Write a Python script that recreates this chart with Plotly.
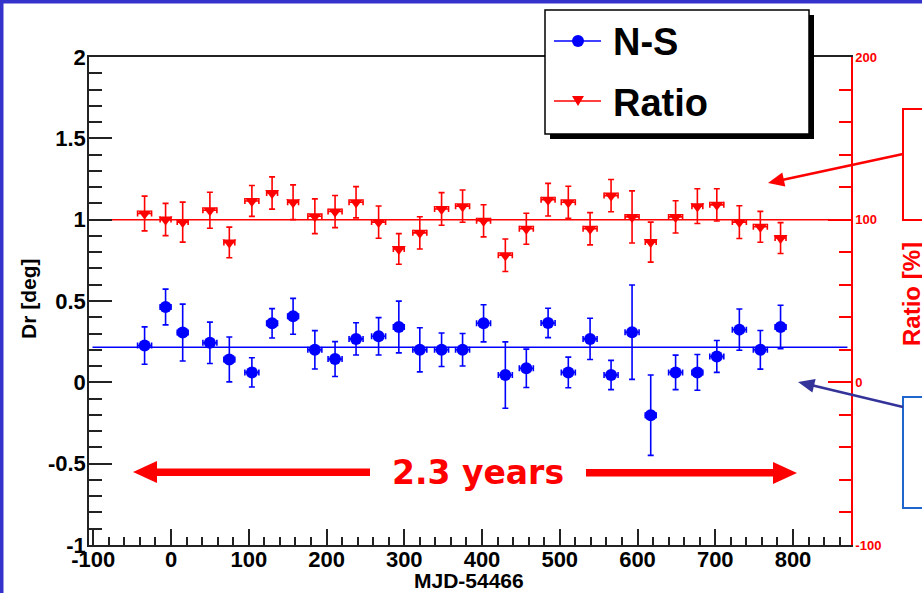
import plotly.graph_objects as go

# ---------------- data ----------------
mjd = [-34, -7, 15, 50, 75, 104, 130, 157, 185, 211, 238, 267, 293, 320, 348,
       375, 402, 430, 457, 485, 511, 539, 566, 593, 617, 649, 677, 702, 731, 758, 784]
mjd_err = [9, 7, 7, 9, 7, 9, 7, 7, 9, 9, 9, 9, 7, 9, 9,
           9, 9, 9, 9, 9, 9, 9, 9, 9, 7, 9, 7, 9, 9, 9, 7]

ns = [0.226, 0.463, 0.306, 0.243, 0.141, 0.061, 0.363, 0.406, 0.200, 0.143, 0.267,
      0.283, 0.340, 0.200, 0.200, 0.200, 0.363, 0.045, 0.086, 0.365, 0.061, 0.267,
      0.045, 0.308, -0.202, 0.061, 0.061, 0.159, 0.324, 0.200, 0.340]
ns_err = [0.115, 0.110, 0.175, 0.127, 0.138, 0.090, 0.090, 0.110, 0.118, 0.107, 0.099,
          0.115, 0.159, 0.136, 0.103, 0.100, 0.114, 0.204, 0.118, 0.090, 0.094, 0.127,
          0.090, 0.290, 0.247, 0.106, 0.110, 0.098, 0.127, 0.119, 0.134]

ratio = [103.8, 100.1, 98.5, 105.8, 86.0, 111.5, 116.4, 110.7, 102.1, 105.0, 110.7,
         98.5, 82.0, 91.9, 106.6, 108.3, 99.3, 78.1, 94.4, 112.3, 110.7, 94.4,
         114.8, 101.7, 86.2, 101.7, 108.3, 109.1, 98.5, 95.6, 88.7]
ratio_err = [10.7, 9.9, 12.3, 11.1, 9.4, 9.5, 9.9, 10.7, 10.7, 9.9, 9.6,
             9.9, 9.4, 9.9, 10.0, 9.9, 9.9, 10.0, 9.5, 10.0, 9.8, 9.9,
             9.9, 16.0, 12.3, 9.9, 10.7, 9.9, 10.1, 9.5, 9.5]

ns_fit = 0.216
ns_fit_range = [-101, 870]
ratio_fit = 100.0
ratio_fit_range = [-104, 875]

x_ticks = [-100, 0, 100, 200, 300, 400, 500, 600, 700, 800]
x_tick_labels = ["-100", "0", "100", "200", "300", "400", "500", "600", "700", "800"]
y_ticks = [-1, -0.5, 0, 0.5, 1, 1.5, 2]
y_tick_labels = ["-1", "-0.5", "0", "0.5", "1", "1.5", "2"]
y2_ticks = [-100, 0, 100, 200]
y2_tick_labels = ["-100", "0", "100", "200"]

# ---------------- layout helpers (pixel -> paper) ----------------
W, H = 922, 593
L, R, T, B = 89, 851, 57, 545


def fx(px):
    return (px - L) / (R - L)


def fy(py):
    return (B - py) / (B - T)


BLUE = "#0000ff"
RED = "#ff0000"
AX = "#222222"
FONT = "Liberation Sans"

fig = go.Figure()

fig.add_trace(go.Scatter(x=ns_fit_range, y=[ns_fit, ns_fit], mode="lines",
                         line=dict(color=BLUE, width=1.5), showlegend=False,
                         hoverinfo="skip", cliponaxis=False))
fig.add_trace(go.Scatter(x=ratio_fit_range, y=[ratio_fit, ratio_fit], mode="lines",
                         yaxis="y2", line=dict(color=RED, width=1.5), showlegend=False,
                         hoverinfo="skip", cliponaxis=False))

fig.add_trace(go.Scatter(
    x=mjd, y=ns, mode="markers", name="N-S",
    marker=dict(symbol="circle", size=12, color=BLUE),
    error_y=dict(type="data", array=ns_err, color=BLUE, thickness=1.6, width=3),
    error_x=dict(type="data", array=mjd_err, color=BLUE, thickness=1.6, width=3),
    showlegend=False))

fig.add_trace(go.Scatter(
    x=mjd, y=ratio, mode="markers", name="Ratio", yaxis="y2",
    marker=dict(symbol="triangle-down", size=12, color=RED),
    error_y=dict(type="data", array=ratio_err, color=RED, thickness=1.6, width=3),
    error_x=dict(type="data", array=mjd_err, color=RED, thickness=1.6, width=3),
    showlegend=False))

tickfont = dict(family=FONT, size=22, color="black", weight="bold")

fig.update_layout(
    width=W, height=H,
    margin=dict(l=L, r=W - R, t=T, b=H - B, pad=0),
    paper_bgcolor="white", plot_bgcolor="white",
    xaxis=dict(range=[-105.5, 874.6], showline=True, linecolor=AX, linewidth=1.5,
               mirror=True, ticks="inside", ticklen=16, tickwidth=1.5, tickcolor=AX,
               tickmode="array", tickvals=x_ticks, ticktext=x_tick_labels,
               ticklabelstandoff=-6,
               minor=dict(ticks="inside", ticklen=8, tickwidth=1.5, tickcolor=AX,
                          dtick=20, tick0=0, showgrid=False),
               showgrid=False, zeroline=False, tickfont=tickfont),
    yaxis=dict(range=[-1, 2], showline=True, linecolor=AX, linewidth=1.5,
               ticks="inside", ticklen=23, tickwidth=1.5, tickcolor=AX,
               tickmode="array", tickvals=y_ticks, ticktext=y_tick_labels,
               ticklabelstandoff=-3,
               minor=dict(ticks="inside", ticklen=13, tickwidth=1.5, tickcolor=AX,
                          dtick=0.1, tick0=0, showgrid=False),
               showgrid=False, zeroline=False, tickfont=tickfont),
    yaxis2=dict(range=[-100, 200], overlaying="y", side="right", showline=True,
                linecolor=RED, linewidth=1.5, ticks="inside", ticklen=23,
                tickwidth=1.5, tickcolor=RED,
                tickmode="array", tickvals=y2_ticks, ticktext=y2_tick_labels,
                minor=dict(ticks="inside", ticklen=12, tickwidth=1.5, tickcolor=RED,
                           dtick=20, tick0=0, showgrid=False),
                showgrid=False, zeroline=False,
                tickfont=dict(family=FONT, size=13, color=RED, weight="bold")),
    showlegend=False,
)

shapes = []
# outer blue frame (top and left)
shapes.append(dict(type="rect", xref="paper", yref="paper", x0=fx(-5), x1=fx(930),
                   y0=fy(-5), y1=fy(3.5), fillcolor="#3434cc", line=dict(width=0)))
shapes.append(dict(type="rect", xref="paper", yref="paper", x0=fx(-5), x1=fx(3.5),
                   y0=fy(-5), y1=fy(600), fillcolor="#3434cc", line=dict(width=0)))
# legend shadow and box
shapes.append(dict(type="rect", xref="paper", yref="paper", x0=fx(550), x1=fx(814),
                   y0=fy(15), y1=fy(139), fillcolor="black", line=dict(width=0)))
shapes.append(dict(type="rect", xref="paper", yref="paper", x0=fx(545), x1=fx(809),
                   y0=fy(10), y1=fy(134), fillcolor="white", line=dict(color="black", width=1.5)))
# legend symbols
shapes.append(dict(type="line", xref="paper", yref="paper", x0=fx(554), x1=fx(601),
                   y0=fy(41), y1=fy(41), line=dict(color=BLUE, width=1.5)))
shapes.append(dict(type="circle", xref="paper", yref="paper", x0=fx(572), x1=fx(584),
                   y0=fy(35), y1=fy(47), fillcolor=BLUE, line=dict(width=0)))
shapes.append(dict(type="line", xref="paper", yref="paper", x0=fx(554), x1=fx(601),
                   y0=fy(101), y1=fy(101), line=dict(color=RED, width=1.5)))
shapes.append(dict(type="path", xref="paper", yref="paper",
                   path=f"M {fx(572)},{fy(96)} L {fx(584)},{fy(96)} L {fx(578)},{fy(106)} Z",
                   fillcolor=RED, line=dict(width=0)))
# right-side note boxes
shapes.append(dict(type="rect", xref="paper", yref="paper", x0=fx(903), x1=fx(960),
                   y0=fy(109), y1=fy(220), fillcolor="white", line=dict(color=RED, width=2)))
shapes.append(dict(type="rect", xref="paper", yref="paper", x0=fx(903), x1=fx(960),
                   y0=fy(397), y1=fy(508), fillcolor="white", line=dict(color="#1f66cc", width=2)))
# red pointer arrow
shapes.append(dict(type="line", xref="paper", yref="paper", x0=fx(903), y0=fy(154),
                   x1=fx(782), y1=fy(180), line=dict(color=RED, width=2.5)))
shapes.append(dict(type="path", xref="paper", yref="paper",
                   path=f"M {fx(768)},{fy(183)} L {fx(785.3)},{fy(186.6)} L {fx(782.3)},{fy(172.6)} Z",
                   fillcolor=RED, line=dict(width=0)))
# navy pointer arrow
shapes.append(dict(type="line", xref="paper", yref="paper", x0=fx(903), y0=fy(407),
                   x1=fx(812), y1=fy(385.3), line=dict(color="#333399", width=2.5)))
shapes.append(dict(type="path", xref="paper", yref="paper",
                   path=f"M {fx(798)},{fy(382)} L {fx(815.6)},{fy(378.9)} L {fx(812.4)},{fy(392.5)} Z",
                   fillcolor="#333399", line=dict(width=0)))
# big "2.3 years" arrows
shapes.append(dict(type="rect", xref="paper", yref="paper", x0=fx(155), x1=fx(370),
                   y0=fy(468.5), y1=fy(476), fillcolor=RED, line=dict(width=0)))
shapes.append(dict(type="path", xref="paper", yref="paper",
                   path=f"M {fx(133)},{fy(472)} L {fx(157)},{fy(461)} L {fx(157)},{fy(483)} Z",
                   fillcolor=RED, line=dict(width=0)))
shapes.append(dict(type="rect", xref="paper", yref="paper", x0=fx(586), x1=fx(775),
                   y0=fy(469), y1=fy(476.5), fillcolor=RED, line=dict(width=0)))
shapes.append(dict(type="path", xref="paper", yref="paper",
                   path=f"M {fx(797)},{fy(473)} L {fx(773)},{fy(462)} L {fx(773)},{fy(484)} Z",
                   fillcolor=RED, line=dict(width=0)))
fig.update_layout(shapes=shapes)

ann = []
big = dict(family=FONT, size=38, color="black", weight="bold")
ann.append(dict(text="N-S", x=fx(611), y=fy(42), xref="paper", yref="paper",
                xanchor="left", yanchor="middle", showarrow=False, font=big))
ann.append(dict(text="Ratio", x=fx(611), y=fy(103), xref="paper", yref="paper",
                xanchor="left", yanchor="middle", showarrow=False, font=big))
ann.append(dict(text="2.3 years", x=fx(478), y=fy(472), xref="paper", yref="paper",
                xanchor="center", yanchor="middle", showarrow=False,
                font=dict(family="DejaVu Sans", size=33, color=RED, weight="bold")))
ann.append(dict(text="Dr [deg]", x=fx(28.5), y=fy(298.5), xref="paper", yref="paper",
                textangle=-90, xanchor="center", yanchor="middle", showarrow=False,
                font=dict(family=FONT, size=21, color="black", weight="bold")))
ann.append(dict(text="MJD-54466", x=fx(469), y=fy(580), xref="paper", yref="paper",
                xanchor="center", yanchor="middle", showarrow=False,
                font=dict(family=FONT, size=21, color="black", weight="bold")))
ann.append(dict(text="Ratio [%]", x=fx(911), y=fy(294), xref="paper", yref="paper",
                textangle=-90, xanchor="center", yanchor="middle", showarrow=False,
                font=dict(family=FONT, size=24, color=RED, weight="bold")))
fig.update_layout(annotations=ann)

fig.write_html("out.html")
